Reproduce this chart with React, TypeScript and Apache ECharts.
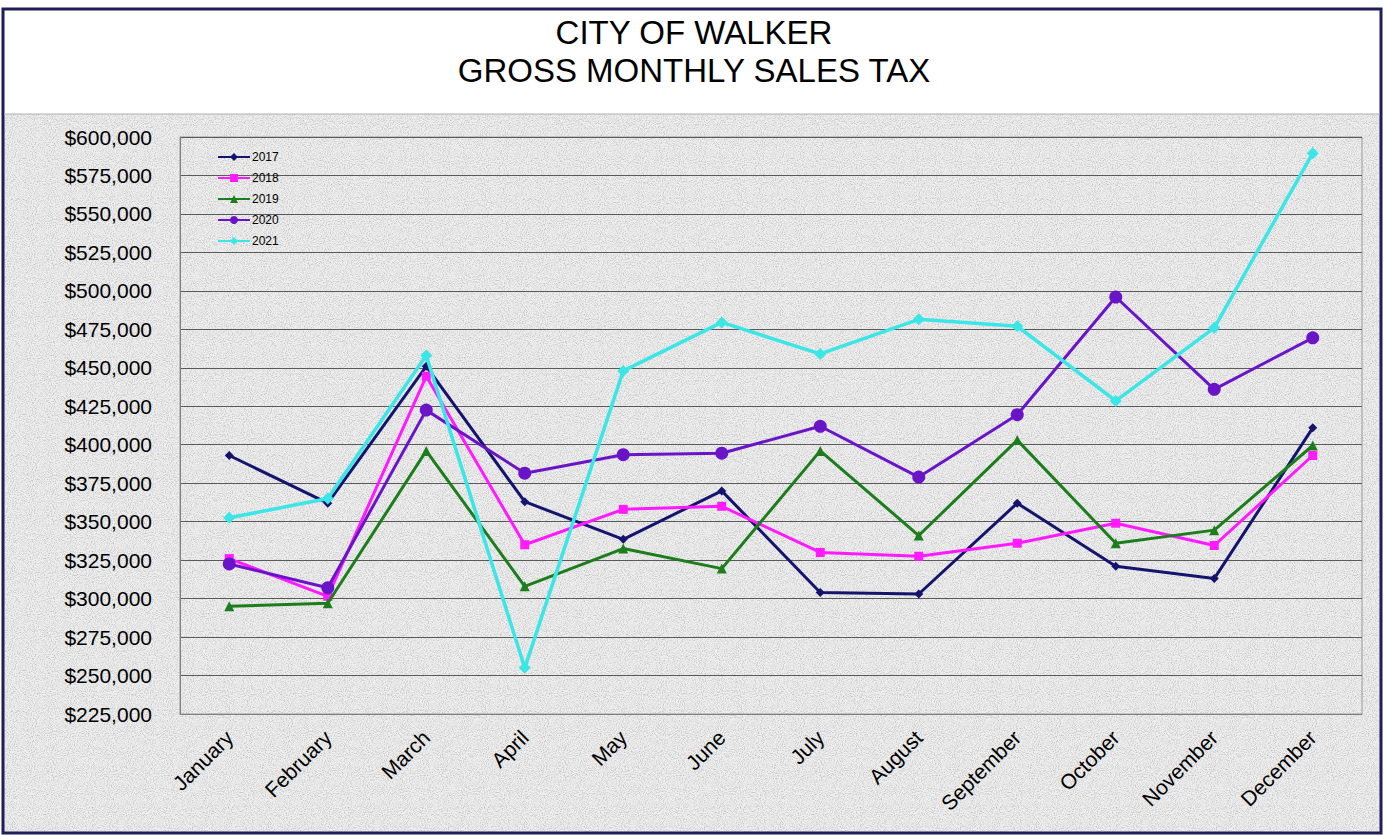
import React, { useEffect, useRef } from "react";
import * as echarts from "echarts";

const months = ["January", "February", "March", "April", "May", "June", "July", "August", "September", "October", "November", "December"];
const years = ["2017", "2018", "2019", "2020", "2021"];
const s2017 = [393000, 362000, 451000, 363000, 338500, 370000, 304000, 303000, 362000, 321000, 313000, 411000];
const s2018 = [326000, 301500, 444500, 335000, 358000, 360000, 330000, 327500, 336000, 349000, 334500, 393000];
const s2019 = [295000, 297000, 396000, 308000, 332500, 319500, 396000, 341000, 403000, 336000, 344500, 399500];
const s2020 = [322500, 307000, 422500, 381500, 393500, 394500, 412000, 379000, 419500, 496000, 436000, 469500];
const s2021 = [352500, 365000, 458000, 255000, 448000, 479500, 459000, 481500, 477000, 428500, 476000, 589500];
const yMin = 225000;
const yMax = 600000;
const yStep = 25000;

const noiseSvg =
  "<svg xmlns='http://www.w3.org/2000/svg' width='256' height='256'><filter id='n' x='0' y='0' width='100%' height='100%'><feTurbulence type='fractalNoise' baseFrequency='0.95' numOctaves='3' stitchTiles='stitch'/><feColorMatrix type='matrix' values='0 0 0 0 0.45 0 0 0 0 0.45 0 0 0 0 0.45 1.7 0 0 0 -0.72'/></filter><rect width='256' height='256' filter='url(#n)'/></svg>";
const noiseUrl = `url("data:image/svg+xml,${encodeURIComponent(noiseSvg)}")`;

export default function App() {
  const ref = useRef<HTMLDivElement>(null);
  useEffect(() => {
    if (!ref.current) return;
    const chart = echarts.init(ref.current, null, { renderer: "svg" });
    const dataSets = [s2017, s2018, s2019, s2020, s2021];
    const colors = ["#14146e", "#ff1aff", "#1c7d1c", "#6a14c8", "#3ae6e6"];
    const symbols = ["diamond", "rect", "triangle", "circle", "diamond"];
    const sizes = [9, 9, 10, 13, 12];
    const widths = [3, 3, 3, 3, 3.5];
    chart.setOption({
      animation: false,
      backgroundColor: "transparent",
      title: {
        text: "CITY OF WALKER\nGROSS MONTHLY SALES TAX",
        left: "center",
        top: 8,
        textStyle: {
          fontFamily: "Liberation Sans, Arial, sans-serif",
          fontSize: 33,
          fontWeight: "normal",
          color: "#000",
          lineHeight: 38,
        },
      },
      legend: {
        orient: "vertical",
        left: 212,
        top: 146,
        itemWidth: 32,
        itemHeight: 10,
        itemGap: 9,
        data: years,
        textStyle: { fontFamily: "Liberation Sans, Arial, sans-serif", fontSize: 12, color: "#000", padding: [0, 0, 0, -3] },
      },
      grid: { left: 180, right: 26, top: 137, bottom: 122, show: true, borderColor: "#9a9a9a", borderWidth: 1 },
      xAxis: {
        type: "category",
        data: months,
        boundaryGap: true,
        axisLine: { lineStyle: { color: "#808080", width: 1 } },
        axisTick: { inside: true, length: 5, lineStyle: { color: "#808080" } },
        axisLabel: {
          rotate: 45,
          margin: 20,
          fontFamily: "Liberation Sans, Arial, sans-serif",
          fontSize: 21,
          color: "#000",
        },
      },
      yAxis: {
        type: "value",
        min: yMin,
        max: yMax,
        interval: yStep,
        axisLine: { show: true, lineStyle: { color: "#808080", width: 1 } },
        axisTick: { show: false },
        splitLine: { lineStyle: { color: "#5a5a5a", width: 1 } },
        axisLabel: {
          margin: 28,
          fontFamily: "Liberation Sans, Arial, sans-serif",
          fontSize: 21,
          color: "#000",
          formatter: (v: number) => "$" + v.toLocaleString("en-US"),
        },
      },
      graphic: [
        {
          type: "rect",
          shape: { x: 3, y: 9, width: 1378, height: 824 },
          style: { fill: "none", stroke: "#1e1e5a", lineWidth: 3 },
          z: 100,
        },
        {
          type: "line",
          shape: { x1: 4, y1: 114, x2: 1380, y2: 114 },
          style: { stroke: "#b0b0b0", lineWidth: 1 },
          z: 100,
        },
      ],
      series: years.map((y, i) => ({
        name: y,
        type: "line",
        data: dataSets[i],
        symbol: symbols[i],
        symbolSize: sizes[i],
        itemStyle: { color: colors[i] },
        lineStyle: { color: colors[i], width: widths[i] },
        z: 2 + i,
      })),
    });
    return () => chart.dispose();
  }, []);
  return (
    <div style={{ position: "fixed", left: 0, top: 0, width: 1388, height: 836, background: "#fff" }}>
      <div
        style={{
          position: "absolute",
          left: 3,
          top: 114,
          width: 1378,
          height: 719,
          backgroundColor: "#eeeeee",
          backgroundImage: noiseUrl,
        }}
      />
      <div ref={ref} style={{ position: "absolute", left: 0, top: 0, width: 1388, height: 836 }} />
    </div>
  );
}
